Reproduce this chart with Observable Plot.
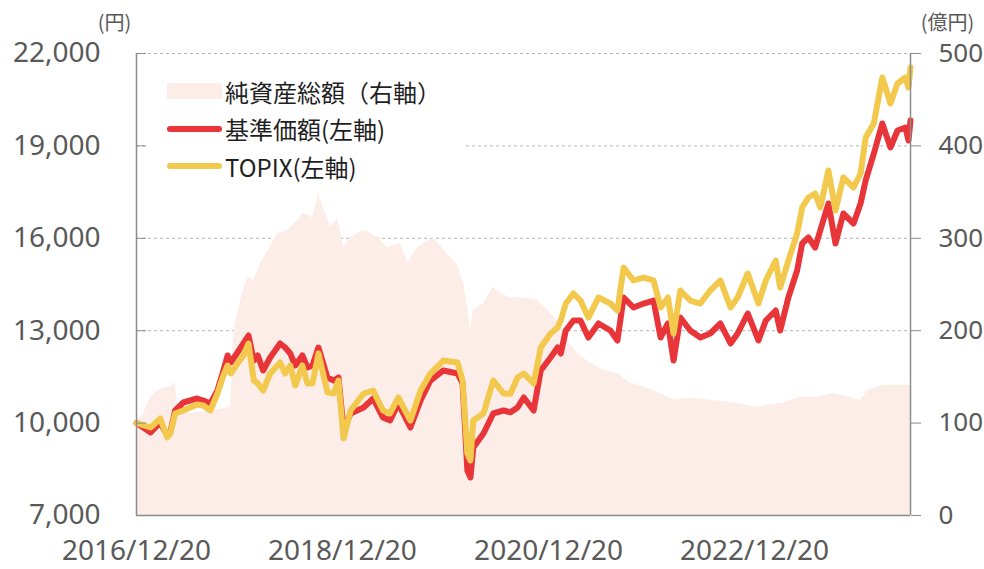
<!DOCTYPE html>
<html>
<head>
<meta charset="utf-8">
<script src="https://cdn.jsdelivr.net/npm/d3@7"></script>
<script src="https://cdn.jsdelivr.net/npm/@observablehq/plot@0.6"></script>
<style>
  html, body { margin: 0; padding: 0; background: #fff; }
  #wrap { position: relative; width: 984px; height: 569px; }
  #legend { position: absolute; left: 148px; top: 60px; width: 317px; height: 130px; background: #fff;
            font-family: "Noto Sans CJK JP", "Noto Sans", sans-serif; font-size: 24px; color: #1f1f1f; }
  .row { position: absolute; left: 19px; height: 30px; display: flex; align-items: center; }
  .sw { width: 55px; margin-right: 3px; }
</style>
</head>
<body>
<div id="wrap"></div>
<script>
// ---- data ----
const lineDates = ["2016-12-20","2017-02-08","2017-03-14","2017-04-08","2017-04-19","2017-05-06","2017-06-04","2017-07-23","2017-08-14","2017-09-08","2017-10-03","2017-10-24","2017-11-08","2017-11-19","2017-12-13","2018-01-03","2018-01-21","2018-02-09","2018-02-23","2018-03-14","2018-04-08","2018-05-13","2018-05-31","2018-06-18","2018-07-06","2018-07-31","2018-08-18","2018-09-05","2018-09-26","2018-10-28","2018-11-19","2018-12-06","2018-12-24","2019-01-18","2019-03-05","2019-04-08","2019-05-13","2019-06-07","2019-07-06","2019-08-18","2019-09-23","2019-10-28","2019-12-13","2020-02-01","2020-02-19","2020-03-07","2020-03-18","2020-03-28","2020-05-03","2020-06-07","2020-07-13","2020-08-07","2020-09-01","2020-09-23","2020-10-28","2020-11-22","2020-12-27","2021-01-21","2021-02-01","2021-02-19","2021-03-18","2021-04-12","2021-05-10","2021-06-15","2021-07-27","2021-08-21","2021-09-12","2021-10-17","2021-11-22","2021-12-27","2022-01-21","2022-02-16","2022-03-08","2022-04-01","2022-05-06","2022-06-11","2022-07-16","2022-08-21","2022-09-26","2022-10-21","2022-11-26","2023-01-03","2023-01-29","2023-03-05","2023-03-21","2023-04-19","2023-05-20","2023-06-07","2023-06-29","2023-07-23","2023-08-10","2023-09-08","2023-10-03","2023-10-31","2023-12-06","2023-12-31","2024-01-18","2024-02-16","2024-03-17","2024-04-15","2024-05-10","2024-06-07","2024-06-18","2024-06-25"];
const navValues = [10000,9695,10019,9600,9700,10409,10669,10799,10734,10636,11058,11708,12195,11967,12292,12584,12844,12032,12195,11708,12130,12584,12454,12260,11870,12195,11805,11870,12454,11480,11383,11480,9800,10312,10506,10799,10182,10084,10636,9857,10734,11383,11708,11610,11286,8461,8234,9208,9662,10312,10409,10350,10506,10831,10409,11708,12130,12454,12260,13006,13331,13331,12779,13234,13006,12682,14078,13753,13883,13980,12779,13234,12032,13428,13006,12779,12909,13234,12584,12909,13558,12682,13331,13656,13006,14078,14954,15831,16026,15701,16253,17130,15831,16805,16480,17130,17877,18753,19727,18948,19500,19597,19175,19825];
const topixValues = [10000,9857,10149,9532,9662,10312,10409,10604,10571,10409,10961,11545,11870,11610,11935,12195,12584,11383,11286,11058,11610,11967,11610,11870,11221,11870,11286,11286,12260,11000,10961,11383,9500,10409,10961,11058,10409,10312,10831,10084,11058,11610,12032,11967,11383,9013,8786,10084,10312,11383,10961,10950,11480,11610,11286,12454,12909,13104,13331,13883,14208,13980,13428,14078,13883,13656,15052,14630,14727,14630,13753,14078,12909,14305,13980,13883,14305,14630,13753,14078,14857,13883,14630,15279,14402,15279,16156,17000,17325,17454,17000,18201,16903,17974,17649,18104,19273,19727,21221,20377,21026,21221,20896,21545];
const aumDates = ["2016-12-20","2017-01-14","2017-02-08","2017-03-14","2017-04-19","2017-05-06","2017-05-17","2017-06-29","2017-09-08","2017-10-31","2017-11-19","2017-11-29","2017-12-24","2018-01-18","2018-02-09","2018-03-05","2018-04-08","2018-05-03","2018-06-07","2018-07-13","2018-08-03","2018-09-05","2018-09-26","2018-10-14","2018-11-08","2018-12-03","2018-12-24","2019-01-18","2019-03-01","2019-03-28","2019-05-03","2019-05-28","2019-07-13","2019-08-10","2019-09-12","2019-11-08","2019-12-27","2020-02-01","2020-02-23","2020-03-11","2020-03-18","2020-03-28","2020-05-03","2020-06-07","2020-07-02","2020-08-07","2020-09-23","2020-11-11","2020-12-16","2021-01-21","2021-02-26","2021-04-01","2021-05-17","2021-07-02","2021-08-21","2021-10-07","2021-11-22","2022-01-21","2022-03-08","2022-05-06","2022-07-06","2022-10-07","2022-12-31","2023-04-01","2023-05-31","2023-07-31","2023-09-26","2023-12-31","2024-01-25","2024-03-01","2024-03-21","2024-06-14","2024-06-25"];
const aumValues = [103,110,128,137,139,144,113,111,113,116,118,197,233,258,254,273,290,305,308,319,327,322,348,333,312,322,290,301,308,306,298,290,294,274,290,300,283,271,251,219,200,222,229,247,240,236,235,233,222,211,189,175,165,157,154,143,139,132,125,127,125,122,117,122,128,128,132,125,135,139,141,141,140];

const xTickLabels = ["2016/12/20","2018/12/20","2020/12/20","2022/12/20"];
const leftTicks = [7000,10000,13000,16000,19000,22000];
const rightTicks = [0,100,200,300,400,500];
const xStartLabel = "2016-12-20", xEndLabel = "2024-06-25";

// ---- build ----
const parse = d3.utcParse("%Y-%m-%d");
const parseSlash = d3.utcParse("%Y/%m/%d");
const lineData = lineDates.map((d, i) => ({date: parse(d), nav: navValues[i], topix: topixValues[i]}));
// right axis (億円) mapped onto the left scale: 0 -> 7000, 500 -> 22000
const yMin = leftTicks[0], yMax = leftTicks[leftTicks.length - 1];
const rMax = rightTicks[rightTicks.length - 1];
const toLeft = v => yMin + v * (yMax - yMin) / rMax;
const fromLeft = v => (v - yMin) * rMax / (yMax - yMin);
const aumData = aumDates.map((d, i) => ({date: parse(d), aum: aumValues[i]}));
const xStart = parse(xStartLabel), xEnd = parse(xEndLabel);
const xTicks = xTickLabels.map(parseSlash);

const axisColor = "#8c8c8c", textColor = "#595959";
const chart = Plot.plot({
  width: 984, height: 569,
  marginLeft: 136, marginRight: 74, marginTop: 53, marginBottom: 54,
  style: {fontFamily: "'Noto Sans', 'Noto Sans CJK JP', sans-serif", background: "#fff", color: textColor, overflow: "visible"},
  x: {type: "utc", domain: [xStart, xEnd]},
  y: {domain: [yMin, yMax]},
  marks: [
    Plot.gridY(leftTicks.slice(1), {stroke: "#b4b4b4", strokeOpacity: 1, strokeDasharray: "3,3", strokeWidth: 1}),
    Plot.areaY(aumData, {x: "date", y1: toLeft(0), y2: d => toLeft(d.aum), fill: "#fcede8"}),
    Plot.line(lineData, {x: "date", y: "nav", stroke: "#e83539", strokeWidth: 6, strokeLinejoin: "round", strokeLinecap: "round"}),
    Plot.line(lineData, {x: "date", y: "topix", stroke: "#f2c94c", strokeWidth: 6, strokeLinejoin: "round", strokeLinecap: "round"}),
    Plot.ruleY([yMin], {stroke: axisColor, strokeWidth: 1.5}),
    Plot.ruleX([xStart, xEnd], {stroke: axisColor, strokeWidth: 1.5}),
    Plot.axisY({ticks: leftTicks, tickFormat: d3.format(","), tickSize: 10, dx: 10, tickPadding: 36,
                fontSize: 28, stroke: axisColor, fill: textColor, label: null}),
    Plot.axisY({anchor: "right", ticks: rightTicks.map(toLeft), tickFormat: d => String(Math.round(fromLeft(d))),
                tickSize: 10, tickPadding: 18, fontSize: 26, stroke: axisColor, fill: textColor, label: null}),
    Plot.axisX({ticks: xTicks, tickFormat: d3.utcFormat("%Y/%m/%d"), tickSize: 0, tickPadding: 25,
                fontSize: 28, fill: textColor, label: null}),
    Plot.text(["(円)"], {text: d => d, frameAnchor: "top-left", textAnchor: "middle", dx: -22, dy: -38, fontSize: 20, fill: textColor,
                fontFamily: "'Noto Sans CJK JP', sans-serif"}),
    Plot.text(["(億円)"], {text: d => d, frameAnchor: "top-right", textAnchor: "middle", dx: 37, dy: -38, fontSize: 20, fill: textColor,
                fontFamily: "'Noto Sans CJK JP', sans-serif"})
  ]
});
const wrap = document.getElementById("wrap");
wrap.appendChild(chart);

// legend overlay
const legendItems = [
  {label: "純資産総額（右軸）", color: "#fcede8", kind: "area"},
  {label: "基準価額(左軸)", color: "#e83539", kind: "line"},
  {label: "TOPIX(左軸)", color: "#f2c94c", kind: "line"}
];
const lg = document.createElement("div");
lg.id = "legend";
legendItems.forEach((it, i) => {
  const row = document.createElement("div");
  row.className = "row";
  row.style.top = (16 + i * 37.5) + "px";
  const sw = document.createElement("div");
  sw.className = "sw";
  sw.style.background = it.color;
  sw.style.height = it.kind === "area" ? "16px" : "6px";
  sw.style.borderRadius = it.kind === "area" ? "0" : "3px";
  const tx = document.createElement("span");
  tx.textContent = it.label;
  row.appendChild(sw); row.appendChild(tx);
  lg.appendChild(row);
});
wrap.appendChild(lg);
</script>
</body>
</html>
